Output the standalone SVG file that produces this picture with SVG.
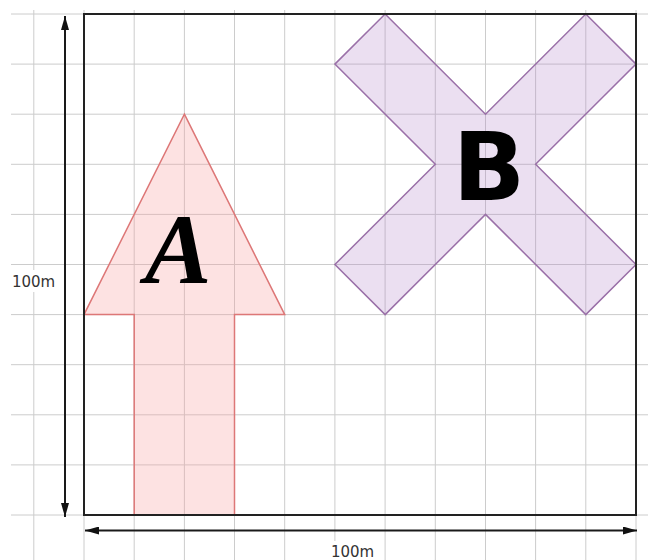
<svg xmlns="http://www.w3.org/2000/svg" width="648" height="560" viewBox="0 0 648 560">
  <style>
    .grid line { stroke: #cccccc; stroke-width: 1; }
    .dim { stroke: #1a1a1a; stroke-width: 2; fill: none; }
    .lbl { font-family: "DejaVu Sans", sans-serif; font-size: 15px; fill: #333; }
  </style>
  <defs>
    <marker id="ah" markerUnits="userSpaceOnUse" markerWidth="15" markerHeight="8" refX="14" refY="4" orient="auto-start-reverse">
      <path d="M0,0 L14,4 L0,8 Z" fill="#111"/>
    </marker>
  </defs>
  <rect width="648" height="560" fill="#ffffff"/>
  <g class="grid">
    <line x1="33.8" y1="10" x2="33.8" y2="560"/>
    <line x1="84" y1="10" x2="84" y2="560"/>
    <line x1="134.2" y1="10" x2="134.2" y2="560"/>
    <line x1="184.4" y1="10" x2="184.4" y2="560"/>
    <line x1="234.5" y1="10" x2="234.5" y2="560"/>
    <line x1="284.7" y1="10" x2="284.7" y2="560"/>
    <line x1="334.9" y1="10" x2="334.9" y2="560"/>
    <line x1="385.1" y1="10" x2="385.1" y2="560"/>
    <line x1="435.3" y1="10" x2="435.3" y2="560"/>
    <line x1="485.5" y1="10" x2="485.5" y2="560"/>
    <line x1="535.6" y1="10" x2="535.6" y2="560"/>
    <line x1="585.8" y1="10" x2="585.8" y2="560"/>
    <line x1="636" y1="10" x2="636" y2="560"/>
    <line x1="11" y1="14" x2="648" y2="14"/>
    <line x1="11" y1="64.1" x2="648" y2="64.1"/>
    <line x1="11" y1="114.2" x2="648" y2="114.2"/>
    <line x1="11" y1="164.3" x2="648" y2="164.3"/>
    <line x1="11" y1="214.4" x2="648" y2="214.4"/>
    <line x1="11" y1="264.5" x2="648" y2="264.5"/>
    <line x1="11" y1="314.6" x2="648" y2="314.6"/>
    <line x1="11" y1="364.7" x2="648" y2="364.7"/>
    <line x1="11" y1="414.8" x2="648" y2="414.8"/>
    <line x1="11" y1="464.9" x2="648" y2="464.9"/>
    <line x1="11" y1="515" x2="648" y2="515"/>
  </g>
  <g id="shapeA">
    <polygon points="184.4,114.2 284.7,314.6 234.5,314.6 234.5,515 134.2,515 134.2,314.6 84,314.6" fill="#f8a0a0" fill-opacity="0.3" stroke="#dd7777" stroke-width="1.5" stroke-linejoin="miter"/>
    <text x="178" y="283" font-family="Liberation Serif, serif" font-style="italic" font-weight="bold" font-size="100" text-anchor="middle" fill="#000">A</text>
  </g>
  <g id="shapeB">
    <polygon points="385.1,14 485.5,114.2 585.8,14 636,64.1 535.6,164.3 636,264.5 585.8,314.6 485.5,214.4 385.1,314.6 334.9,264.5 435.3,164.3 334.9,64.1" fill="#b080c8" fill-opacity="0.25" stroke="#9a70a8" stroke-width="1.5"/>
    <text x="489" y="200" font-family="DejaVu Sans, sans-serif" font-weight="bold" font-size="95" text-anchor="middle" fill="#000">B</text>
  </g>
  <g id="box">
    <rect x="84" y="14" width="552" height="501" fill="none" stroke="#222" stroke-width="2"/>
  </g>
  <g id="connectors">
    <line class="dim" x1="65" y1="16" x2="65" y2="517" marker-start="url(#ah)" marker-end="url(#ah)"/>
    <line class="dim" x1="85" y1="530.5" x2="637" y2="530.5" marker-start="url(#ah)" marker-end="url(#ah)"/>
  </g>
  <g id="label-left">
    <rect x="9" y="270" width="49" height="22" fill="#fff"/>
    <text class="lbl" x="33.5" y="287" text-anchor="middle">100m</text>
  </g>
  <g id="label-bottom">
    <rect x="328" y="541" width="49" height="19" fill="#fff"/>
    <text class="lbl" x="352.5" y="557" text-anchor="middle">100m</text>
  </g>
</svg>
